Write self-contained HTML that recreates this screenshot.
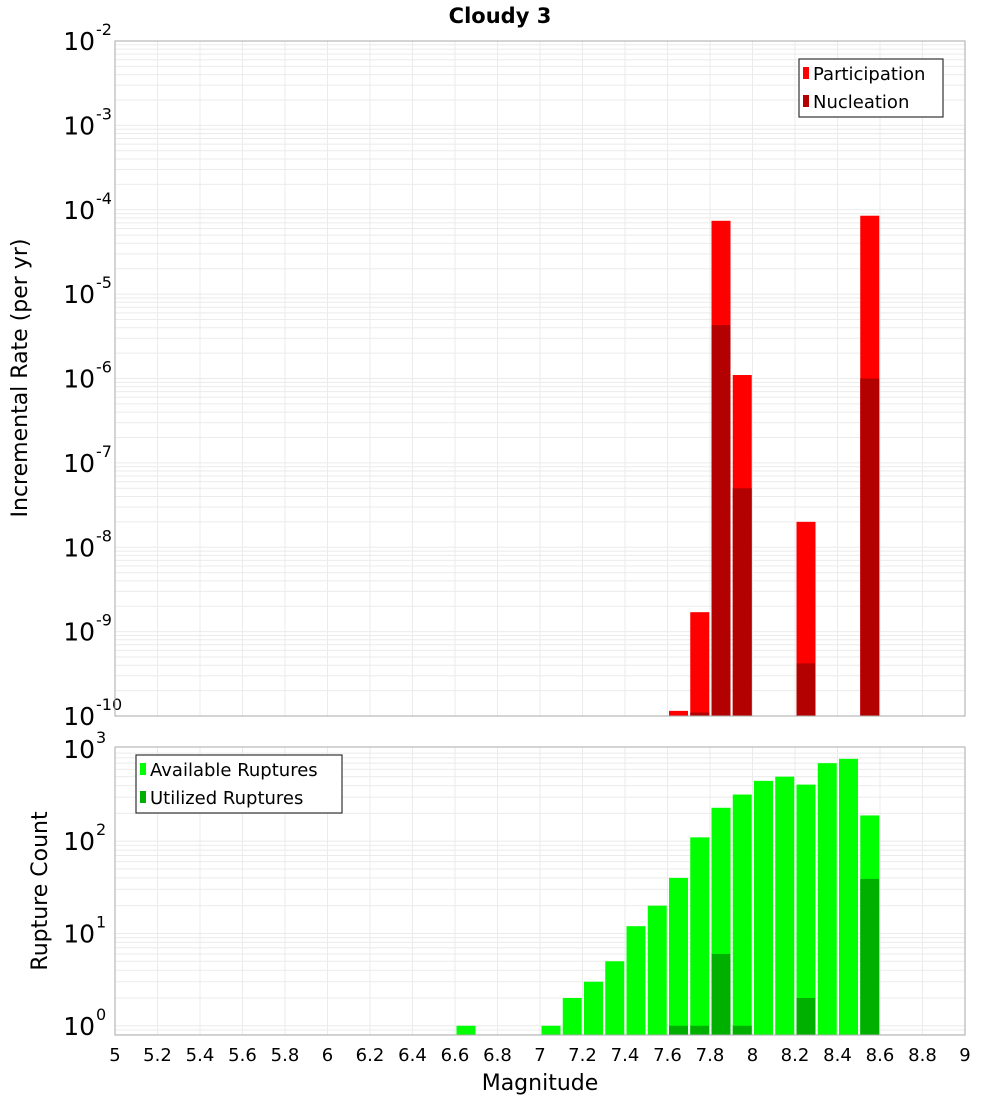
<!DOCTYPE html>
<html><head><meta charset="utf-8"><style>
body{margin:0;background:#fff;}
svg{display:block;font-family:"DejaVu Sans","Liberation Sans",sans-serif;}
</style></head><body>
<svg id="chart" width="1000" height="1100" viewBox="0 0 1000 1100" xmlns="http://www.w3.org/2000/svg">
<text x="500" y="23" text-anchor="middle" font-size="21" font-weight="bold">Cloudy 3</text>
<g id="topPlot"></g>
<g id="botPlot"></g>
<text transform="translate(27,378) rotate(-90)" text-anchor="middle" font-size="22">Incremental Rate (per yr)</text>
<text transform="translate(47,891) rotate(-90)" text-anchor="middle" font-size="22">Rupture Count</text>
<text x="540" y="1090" text-anchor="middle" font-size="22">Magnitude</text>
</svg>
<script>
const mags = [6.6, 7.0, 7.1, 7.2, 7.3, 7.4, 7.5, 7.6, 7.7, 7.8, 7.9, 8.0, 8.1, 8.2, 8.3, 8.4, 8.5];
const participation = [0, 0, 0, 0, 0, 0, 0, 1.15e-10, 1.7e-9, 7.4e-5, 1.1e-6, 0, 0, 2e-8, 0, 0, 8.5e-5];
const nucleation = [0, 0, 0, 0, 0, 0, 0, 0, 1.1e-10, 4.3e-6, 5e-8, 0, 0, 4.2e-10, 0, 0, 1e-6];
const available = [1, 1, 2, 3, 5, 12, 20, 40, 110, 230, 320, 450, 500, 410, 700, 780, 190];
const utilized = [0, 0, 0, 0, 0, 0, 0, 1, 1, 6, 1, 0, 0, 2, 0, 0, 39];
const xTicks = [5,5.2,5.4,5.6,5.8,6,6.2,6.4,6.6,6.8,7,7.2,7.4,7.6,7.8,8,8.2,8.4,8.6,8.8,9];
const topExps = [-2,-3,-4,-5,-6,-7,-8,-9,-10];
const botExps = [3,2,1,0];

const NS="http://www.w3.org/2000/svg";
const X0=115,X1=965;
const xS=m=>X0+(m-5)/4*(X1-X0);
const topY=v=>716-(Math.log10(v)+10)*(675/8);
const botY=v=>1035-(Math.log10(v)+0.1)*92.3;
function mk(p,t,a){const e=document.createElementNS(NS,t);for(const k in a)e.setAttribute(k,a[k]);p.appendChild(e);return e;}

function panel(g,y0,y1,yS,lo,hi,exps){
  mk(g,'rect',{x:X0,y:y0,width:X1-X0,height:y1-y0,fill:'#fff'});
  for(let d=lo;d<hi;d++)for(let k=1;k<10;k++){const v=k*Math.pow(10,d);const y=yS(v);if(y<y0||y>y1)continue;
    const l=mk(g,'line',{x1:X0,x2:X1,y1:y,y2:y,stroke:'#ebebeb','stroke-width':1});
    
    }
  xTicks.forEach(t=>{const x=xS(t);const l=mk(g,'line',{x1:x,x2:x,y1:y0,y2:y1,stroke:'#ebebeb','stroke-width':1});
    
    });
  exps.forEach(e=>{const y=yS(Math.pow(10,e));const t=mk(g,'text',{x:95,y:y+9,'text-anchor':'end','font-size':25});
    t.textContent='10';
    
    
    const s=mk(g,'text',{x:96,y:y-6,'font-size':16});s.textContent=String(e);
    
    });
}
function bars(g,vals,yS,y1,fill,nm){
  mags.forEach((m,i)=>{const v=vals[i];if(!v)return;const y=Math.max(yS(v),0);
    const r=mk(g,'rect',{x:xS(m)+1.5,y:y,width:19,height:y1-y,fill:fill});
    
    });
}
function legend(g,x,y,w,items){
  const b=mk(g,'rect',{x:x,y:y,width:w,height:58,fill:'#fff',stroke:'#333','stroke-width':1.2});
  
  
  items.forEach((it,i)=>{const yy=y+14+i*28;
    const s=mk(g,'rect',{x:x+4,y:yy-6,width:6,height:12,fill:it[1]});
    
    
    const t=mk(g,'text',{x:x+14,y:yy+7,'font-size':18});t.textContent=it[0];
    
    });
}
const gTop=document.getElementById('topPlot'),gBot=document.getElementById('botPlot');
panel(gTop,41,716,topY,-10,-2,topExps);
bars(gTop,participation,topY,716,'#ff0000','participation-bar');
bars(gTop,nucleation,topY,716,'#b30000','nucleation-bar');
mk(gTop,'rect',{x:X0,y:41,width:X1-X0,height:675,fill:'none',stroke:'#aaa','stroke-width':1});
legend(gTop,799,59,144,[['Participation','#ff0000'],['Nucleation','#b30000']]);

panel(gBot,747,1035,botY,-1,3,botExps);
bars(gBot,available,botY,1035,'#00ff00','available-bar');
bars(gBot,utilized,botY,1035,'#00b000','utilized-bar');
mk(gBot,'rect',{x:X0,y:747,width:X1-X0,height:288,fill:'none',stroke:'#aaa','stroke-width':1});
legend(gBot,136,755,206,[['Available Ruptures','#00ff00'],['Utilized Ruptures','#00b000']]);
xTicks.forEach(t=>{const e=mk(gBot,'text',{x:xS(t),y:1061,'text-anchor':'middle','font-size':18});
  e.textContent=String(t);
  
  });
</script>
</body></html>
